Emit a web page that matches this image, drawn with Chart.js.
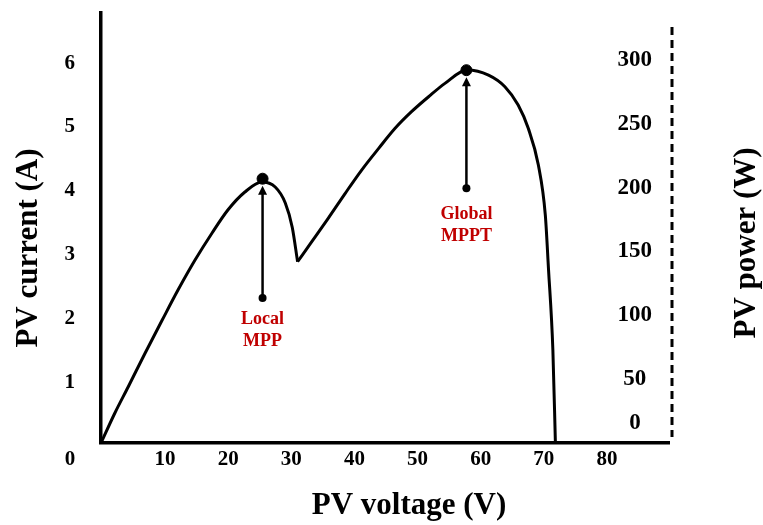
<!DOCTYPE html>
<html>
<head>
<meta charset="utf-8">
<script src="https://cdn.jsdelivr.net/npm/chart.js@4.4.1/dist/chart.umd.min.js"></script>
<style>
    html, body { margin: 0; padding: 0; background: #fff; }
    #wrap { width: 763px; height: 525px; }
</style>
</head>
<body>
<div id="wrap"><canvas id="pvChart"></canvas></div>
<script>
// P-V curve (voltage in V, power in W)
const curveVoltage = [0, 2.2, 4.3, 7.0, 9.7, 12.2, 14.9, 17.6, 20.1, 22.8, 25.5, 27.6, 29.2, 30.3, 31.15,
    33.4, 36.0, 38.7, 41.3, 44.0, 46.6, 49.2, 51.9, 54.5, 58.0, 61.4, 64.0, 66.1, 67.7, 69.3, 70.4, 70.9,
    71.6, 72.0];
const curvePower = [0, 23.5, 43.9, 70.5, 96.3, 119.8, 143.3, 164.5, 182.5, 196.6, 204.4, 200.5, 188, 169, 142,
    157.7, 176, 195.6, 213.8, 230.8, 246.5, 259.5, 271.2, 281.7, 292.2, 288.2, 279.1, 264.7, 246.5, 217.7, 178.6, 136.8,
    72.8, 0];
const dipIndex = 14; // sharp corner between the two humps

// maximum power points and their callouts
const mppVoltage = [25.6, 57.9];
const mppPower = [207, 292];
const arrowBasePower = [113.5, 199.5];
const mppLabels = [['Local', 'MPP'], ['Global', 'MPPT']];
const mppLabelPower = [97, 179];

// axis ticks
const voltageTicks = [10, 20, 30, 40, 50, 60, 70, 80];
const currentTicks = [1, 2, 3, 4, 5, 6];
const powerTicks = [50, 100, 150, 200, 250, 300];

const xTitle = 'PV voltage (V)';
const leftTitle = 'PV current (A)';
const rightTitle = 'PV power (W)';

const SERIF = '"Liberation Serif", "Times New Roman", serif';

function toPoints(from, to) {
    const pts = [];
    for (let i = from; i <= to; i++) {
        pts.push({ x: curveVoltage[i], y: curvePower[i] });
    }
    return pts;
}

// no extra room for overflowing tick labels: the figure has fixed margins
function noScalePadding(s) {
    s.paddingTop = 0;
    s.paddingBottom = 0;
    s.paddingLeft = 0;
    s.paddingRight = 0;
}

// extra text, arrows and the dashed power axis drawn on top of the chart
const figureText = {
    id: 'figureText',
    afterDatasetsDraw(chart) {
        const { ctx, chartArea: a, scales } = chart;
        const xs = scales.x;
        const ps = scales.yP;
        ctx.save();

        // dashed right axis
        ctx.strokeStyle = '#000';
        ctx.lineWidth = 3;
        ctx.setLineDash([8, 5]);
        ctx.beginPath();
        ctx.moveTo(a.right + 3, a.top + 14);
        ctx.lineTo(a.right + 3, a.bottom - 6);
        ctx.stroke();
        ctx.setLineDash([]);

        mppVoltage.forEach((v, i) => {
            const px = xs.getPixelForValue(v);
            const tip = ps.getPixelForValue(mppPower[i]) + 7;
            const base = ps.getPixelForValue(arrowBasePower[i]);
            ctx.strokeStyle = '#000';
            ctx.fillStyle = '#000';
            ctx.lineWidth = 2.5;
            ctx.beginPath();
            ctx.moveTo(px, base);
            ctx.lineTo(px, tip + 6);
            ctx.stroke();
            ctx.beginPath();
            ctx.moveTo(px, tip);
            ctx.lineTo(px - 4.5, tip + 9);
            ctx.lineTo(px + 4.5, tip + 9);
            ctx.closePath();
            ctx.fill();
            ctx.beginPath();
            ctx.arc(px, base, 4, 0, Math.PI * 2);
            ctx.fill();

            ctx.fillStyle = '#c00000';
            ctx.font = 'bold 18px ' + SERIF;
            ctx.textAlign = 'center';
            ctx.textBaseline = 'middle';
            const ly = ps.getPixelForValue(mppLabelPower[i]);
            mppLabels[i].forEach((t, k) => ctx.fillText(t, px, ly + k * 22));
        });

        // zero labels placed off the scales, as in the figure
        ctx.fillStyle = '#000';
        ctx.textAlign = 'center';
        ctx.textBaseline = 'middle';
        ctx.font = 'bold 21px ' + SERIF;
        ctx.fillText('0', a.left - 31, a.bottom + 17);
        ctx.font = 'bold 23px ' + SERIF;
        ctx.fillText('0', a.right - 34, a.bottom - 20);

        // axis titles
        ctx.font = 'bold 31px ' + SERIF;
        ctx.fillText(xTitle, a.left + 308, a.bottom + 63);
        ctx.save();
        ctx.translate(a.left - 72, a.top + 235);
        ctx.rotate(-Math.PI / 2);
        ctx.fillText(leftTitle, 0, 0);
        ctx.restore();
        ctx.save();
        ctx.translate(a.right + 78, a.top + 230);
        ctx.rotate(-Math.PI / 2);
        ctx.fillText(rightTitle, 0, 0);
        ctx.restore();

        ctx.restore();
    }
};

Chart.defaults.font.family = SERIF;
Chart.defaults.font.weight = 'bold';
Chart.defaults.color = '#000';

const curveStyle = {
    type: 'line',
    yAxisID: 'yP',
    borderColor: '#000',
    borderWidth: 3,
    pointRadius: 0,
    cubicInterpolationMode: 'monotone',
    fill: false
};

new Chart(document.getElementById('pvChart'), {
    type: 'line',
    data: {
        datasets: [
            Object.assign({ label: 'P-V (local hump)', data: toPoints(0, dipIndex) }, curveStyle),
            Object.assign({ label: 'P-V (global hump)', data: toPoints(dipIndex, curveVoltage.length - 1) }, curveStyle),
            {
                type: 'scatter',
                label: 'MPP',
                yAxisID: 'yP',
                data: mppVoltage.map((v, i) => ({ x: v, y: mppPower[i] })),
                pointRadius: 5.5,
                pointBackgroundColor: '#000',
                pointBorderColor: '#000',
                showLine: false
            }
        ]
    },
    options: {
        responsive: true,
        maintainAspectRatio: false,
        animation: false,
        layout: { padding: { top: 13, left: 0, right: 0, bottom: 0 } },
        plugins: {
            legend: { display: false },
            tooltip: { enabled: false }
        },
        scales: {
            x: {
                type: 'linear',
                min: 0,
                max: 90,
                grid: { display: false, drawTicks: false },
                border: { display: true, color: '#000', width: 3.5 },
                ticks: { padding: 4, labelOffset: 1, font: { size: 21, weight: 'bold' } },
                afterBuildTicks(s) { s.ticks = voltageTicks.map(v => ({ value: v })); },
                afterFit(s) { s.height = 82; noScalePadding(s); }
            },
            y: {
                type: 'linear',
                position: 'left',
                min: 0,
                max: 6.74,
                grid: { display: false, drawTicks: false },
                border: { display: true, color: '#000', width: 3.5 },
                ticks: { padding: 26, labelOffset: 3, font: { size: 21, weight: 'bold' } },
                afterBuildTicks(s) { s.ticks = currentTicks.map(v => ({ value: v })); },
                afterFit(s) { s.width = 101; noScalePadding(s); }
            },
            yP: {
                type: 'linear',
                position: 'right',
                min: 0,
                max: 336.8,
                grid: { display: false, drawTicks: false },
                border: { display: false },
                ticks: {
                    mirror: true,
                    crossAlign: 'center',
                    padding: -17,
                    font: { size: 23, weight: 'bold' }
                },
                afterBuildTicks(s) { s.ticks = powerTicks.map(v => ({ value: v })); },
                afterFit(s) { s.width = 94; noScalePadding(s); }
            }
        }
    },
    plugins: [figureText]
});
</script>
</body>
</html>
